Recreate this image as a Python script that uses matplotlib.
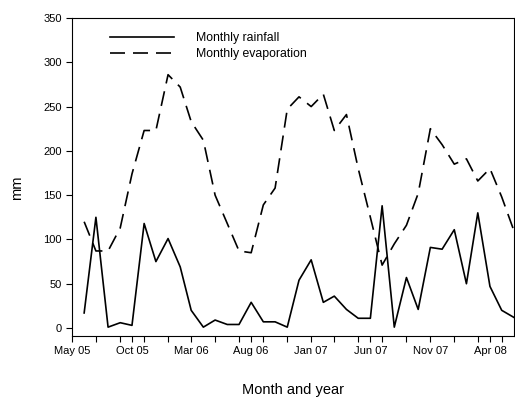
import pandas as pd
import matplotlib
matplotlib.use("Agg")
import matplotlib.pyplot as plt
import matplotlib.dates as mdates

plt.rcParams['font.family'] = ['Liberation Sans', 'DejaVu Sans']

# monthly values, Jun 2005 - Jun 2008
months = pd.date_range('2005-06-01', '2008-06-01', freq='MS')
rainfall = [17, 125, 1, 6, 3, 118, 75, 101, 69, 20, 1, 9,
            4, 4, 29, 7, 7, 1, 54, 77, 29, 36, 21, 11,
            11, 138, 1, 57, 21, 91, 89, 111, 50, 130, 47, 20, 12]
evaporation = [120, 87, 87, 113, 174, 223, 223, 286, 272, 233, 212, 150,
               118, 87, 85, 139, 158, 247, 261, 250, 264, 223, 241, 180,
               125, 71, 95, 116, 152, 225, 207, 185, 191, 166, 180, 148, 110]
major_ticks = pd.date_range('2005-05-01', periods=8, freq='5MS')

fig = plt.figure(figsize=(5.15, 3.99), dpi=100)
ax = fig.add_axes([0.1398, 0.1579, 0.858, 0.797])

ax.plot(months, rainfall, color='black', lw=1.2, label='Monthly rainfall')
ax.plot(months, evaporation, color='black', lw=1.2, dashes=(9, 4.8),
        label='Monthly evaporation')

ax.set_xlim(pd.Timestamp('2005-05-01'), pd.Timestamp('2008-06-01'))
ax.set_ylim(-9, 350)
ax.set_yticks(range(0, 351, 50))
ax.set_xticks(major_ticks)
ax.xaxis.set_major_formatter(mdates.DateFormatter('%b %y'))
ax.xaxis.set_minor_locator(mdates.MonthLocator(bymonth=[1, 3, 5, 7, 9, 11]))

ax.tick_params(which='both', direction='out', length=4, width=0.8,
               labelsize=8, color='black')
ax.tick_params(axis='x', pad=3)
for s in ax.spines.values():
    s.set_linewidth(0.8)

ax.set_ylabel('mm', fontsize=10.5)
ax.yaxis.set_label_coords(-0.108, 0.467)
ax.set_xlabel('Month and year', fontsize=10.5, labelpad=20)

ax.legend(loc='upper left', bbox_to_anchor=(0.06, 0.99), frameon=False,
          fontsize=8.8, handlelength=5.3, handletextpad=1.8, labelspacing=0.3)

fig.savefig('out.png', dpi=100)
